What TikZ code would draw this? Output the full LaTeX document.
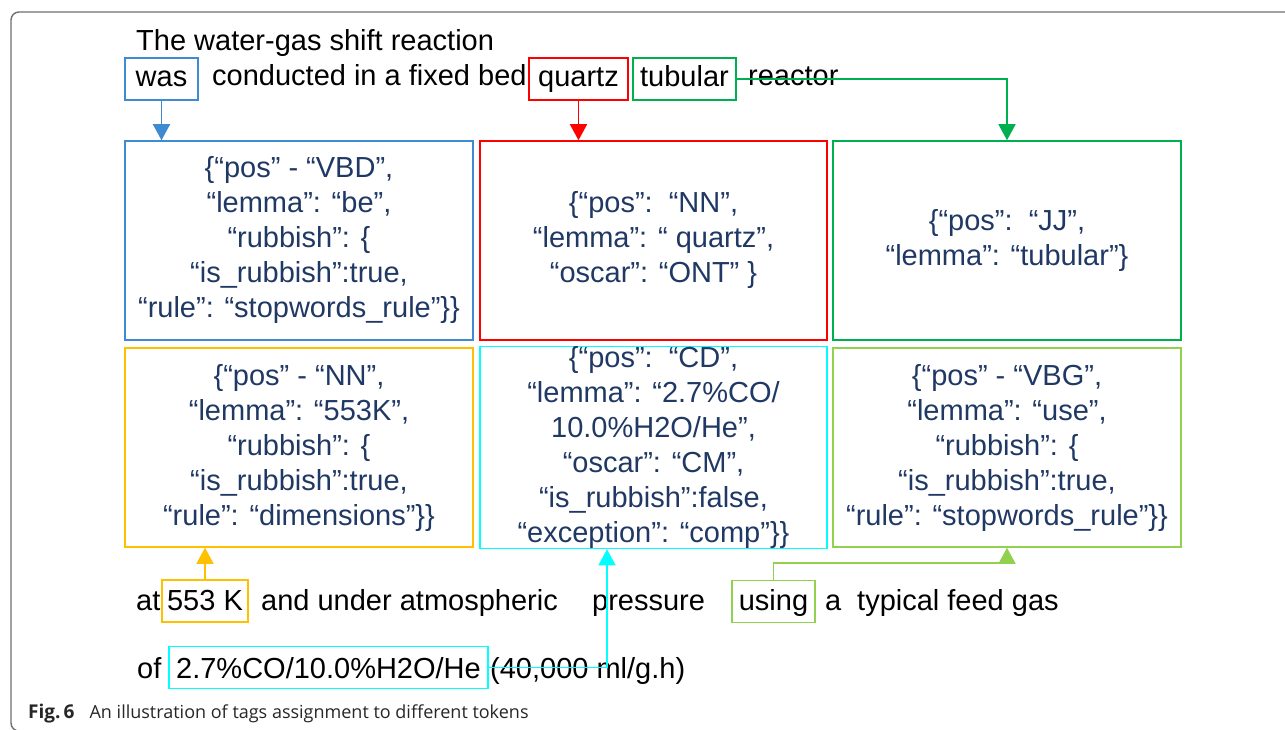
\documentclass[tikz,border=0pt]{standalone}
\usepackage{fontspec}
\setmainfont{Liberation Sans}
\newfontfamily\capfont{Open Sans}
\usetikzlibrary{arrows.meta}
\definecolor{navy}{HTML}{203864}
\definecolor{wblue}{HTML}{3E8BD2}
\definecolor{tred}{HTML}{FF0000}
\definecolor{tgreen}{HTML}{00B050}
\definecolor{tyellow}{HTML}{FFC000}
\definecolor{tcyan}{HTML}{00FFFF}
\definecolor{tlgreen}{HTML}{92D050}
\definecolor{framegray}{HTML}{6E6E6E}
\newcommand\mainfs{\fontsize{29}{35}\selectfont}
\tikzset{
  frame/.style={draw=framegray, line width=1.4pt, rounded corners=8pt},
  words/.style={anchor=base west, inner sep=0pt, font=\mainfs, text=black},
  tok/.style={draw, line width=1.5pt, inner sep=0pt, minimum height=42pt,
    text height=21pt, text depth=6pt, font=\mainfs, text=black},
  info/.style={draw, line width=1.5pt, inner sep=0pt, align=center, font=\mainfs,
    text=navy, minimum width=348pt, minimum height=199pt},
  conn/.style={line width=1.5pt, -{Triangle[width=17pt,length=16pt]}},
}
\begin{document}
\begin{tikzpicture}[x=1pt,y=-1pt]
\useasboundingbox (0,0) rectangle (1285,730);
\draw[frame] (11,12) rectangle (1330,731);

% top sentence
\node[words] (t1) at (136,51) {The water-gas shift reaction};
\node[tok, draw=wblue, minimum width=73pt] (was) at (161.5,79) {was};
\node[words] (t2) at (212,86) {conducted in a fixed bed};
\node[tok, draw=tred, minimum width=99pt] (quartz) at (578.5,79) {quartz};
\node[tok, draw=tgreen, minimum width=103pt] (tubular) at (684.5,79) {tubular};
\node[words] (t3) at (748,86) {reactor};

% info boxes
\node[info, draw=wblue] (vbd) at (299,240.5)
  {\{“pos” - “VBD”,\\ “lemma”: “be”,\\ “rubbish”: \{\\ “is\_rubbish”:true,\\ “rule”: “stopwords\_rule”\}\}};
\node[info, draw=tred, minimum width=347pt] (nn) at (653.5,240.5)
  {\{“pos”:\ \ “NN”,\\ “lemma”: “ quartz”,\\ “oscar”: “ONT” \}};
\node[info, draw=tgreen] (jj) at (1007,240.5)
  {\{“pos”:\ \ “JJ”,\\ “lemma”: “tubular”\}};
\node[info, draw=tyellow] (k) at (299,447.5)
  {\{“pos” - “NN”,\\ “lemma”: “553K”,\\ “rubbish”: \{\\ “is\_rubbish”:true,\\ “rule”: “dimensions”\}\}};
\node[info, draw=tcyan, minimum width=347pt] (cd) at (653.5,447.5)
  {\{“pos”:\ \ “CD”,\\ “lemma”: “2.7\%CO/\\ 10.0\%H2O/He”,\\ “oscar”: “CM”,\\ “is\_rubbish”:false,\\ “exception”: “comp”\}\}};
\node[info, draw=tlgreen] (vbg) at (1007,447.5)
  {\{“pos” - “VBG”,\\ “lemma”: “use”,\\ “rubbish”: \{\\ “is\_rubbish”:true,\\ “rule”: “stopwords\_rule”\}\}};

% bottom sentence
\node[words] (b1) at (136,610) {at};
\node[tok, draw=tyellow, minimum width=86pt, text height=24pt] (k553) at (205,601) {553 K};
\node[words] (b2) at (261,610) {and under atmospheric};
\node[words] (b3) at (592,610) {pressure};
\node[tok, draw=tlgreen, minimum width=83pt, text height=24pt] (using) at (773.5,601.5) {using};
\node[words] (b4) at (825,610) {a};
\node[words] (b5) at (857,610) {typical feed gas};
\node[words] (c1) at (137,678) {of};
\node[tok, draw=tcyan, minimum width=319pt, text height=27pt] (gas) at (328.5,667.5) {2.7\%CO/10.0\%H2O/He};
\node[words] (c2) at (490,678) {(40,000 ml/g.h)};

% caption
\node[anchor=base west, inner sep=0pt, font=\capfont\fontsize{18}{22}\selectfont, text=black!85] (cap) at (28,718)
  {{\fontsize{19}{22}\selectfont\bfseries Fig.\,6}\hspace{15pt}An illustration of tags assignment to different tokens};

% connectors
\draw[conn, wblue] (was.south) -- (was.south |- vbd.north);
\draw[conn, tred] (quartz.south) -- (quartz.south |- nn.north);
\draw[conn, tgreen] (tubular.east) -| (jj.north);
\draw[conn, tyellow] (k553.north) -- (k553.north |- k.south);
\draw[conn, tcyan] (gas.east) -| ([xshift=-46.5pt]cd.south);
\draw[conn, tlgreen] (using.north) -- ++(0,-17) -| (vbg.south);
\end{tikzpicture}
\end{document}
